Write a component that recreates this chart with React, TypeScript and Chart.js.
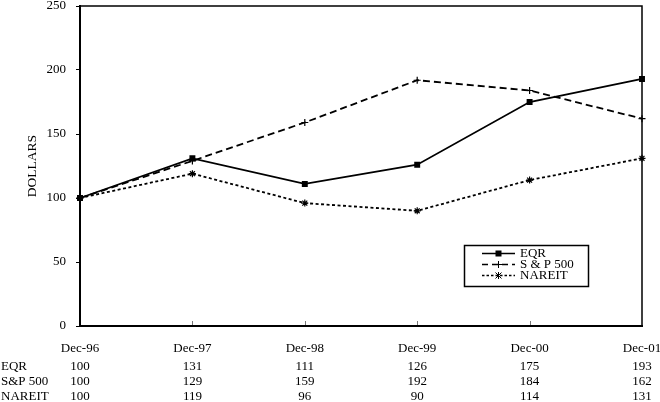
import React, { useEffect, useRef } from 'react';
import { Chart, registerables } from 'chart.js';
Chart.register(...registerables);

const categories = ['Dec-96', 'Dec-97', 'Dec-98', 'Dec-99', 'Dec-00', 'Dec-01'];
const eqr = [100, 131, 111, 126, 175, 193];
const sp500 = [100, 129, 159, 192, 184, 162];
const nareit = [100, 119, 96, 90, 114, 131];
const legendNames = ['EQR', 'S & P 500', 'NAREIT'];
const tableLabels = ['EQR', 'S&P 500', 'NAREIT'];
const yMin = 0;
const yMax = 250;
const yStep = 50;
const yTitle = 'DOLLARS';

const FONT = "'Liberation Serif', 'Times New Roman', serif";

const extrasPlugin = {
  id: 'extras',
  afterDraw(chart: any) {
    const { ctx, chartArea, scales } = chart;
    const x = scales.x;
    ctx.save();
    ctx.strokeStyle = '#000';
    // top and right frame
    ctx.lineWidth = 1.5;
    ctx.beginPath();
    ctx.moveTo(chartArea.left, chartArea.top);
    ctx.lineTo(chartArea.right, chartArea.top);
    ctx.lineTo(chartArea.right, chartArea.bottom);
    ctx.stroke();
    // inward x ticks
    ctx.lineWidth = 1;
    ctx.strokeStyle = '#777';
    for (let i = 1; i < categories.length - 1; i++) {
      const px = Math.round(x.getPixelForValue(i)) + 0.5;
      ctx.beginPath();
      ctx.moveTo(px, chartArea.bottom - 1);
      ctx.lineTo(px, chartArea.bottom - 5);
      ctx.stroke();
    }
    // y title
    ctx.fillStyle = '#000';
    ctx.save();
    ctx.font = `13.5px ${FONT}`;
    ctx.translate(32.5, (chartArea.top + chartArea.bottom) / 2);
    ctx.rotate(-Math.PI / 2);
    ctx.textAlign = 'center';
    ctx.textBaseline = 'middle';
    ctx.fillText(yTitle, 0, 0);
    ctx.restore();
    ctx.font = `13px ${FONT}`;
    // table
    const rows = [eqr, sp500, nareit];
    const rowY = [367, 382, 397];
    ctx.textBaseline = 'middle';
    rows.forEach((row, r) => {
      ctx.textAlign = 'left';
      ctx.fillText(tableLabels[r], 1, rowY[r]);
      ctx.textAlign = 'center';
      row.forEach((v, i) => {
        ctx.fillText(String(v), x.getPixelForValue(i), rowY[r]);
      });
    });
    // legend
    const bx = 464.5, by = 245.5, bw = 124, bh = 41;
    ctx.strokeStyle = '#000';
    ctx.lineWidth = 1.5;
    ctx.strokeRect(bx, by, bw, bh);
    const ly = [253.5, 264.5, 275.5];
    const dashes = [[], [6, 4], [2.5, 2]];
    const styles = ['rect', 'cross', 'star'];
    ly.forEach((yy, i) => {
      ctx.lineWidth = 1.5;
      ctx.setLineDash(dashes[i]);
      ctx.beginPath();
      ctx.moveTo(482, yy);
      ctx.lineTo(515, yy);
      ctx.stroke();
      ctx.setLineDash([]);
      const mx = 498.5;
      ctx.lineWidth = 1;
      if (styles[i] === 'rect') {
        ctx.fillRect(mx - 3, yy - 3, 6, 6);
      } else if (styles[i] === 'cross') {
        ctx.beginPath();
        ctx.moveTo(mx - 3.5, yy); ctx.lineTo(mx + 3.5, yy);
        ctx.moveTo(mx, yy - 3.5); ctx.lineTo(mx, yy + 3.5);
        ctx.stroke();
      } else {
        ctx.beginPath();
        ctx.moveTo(mx - 3, yy - 3); ctx.lineTo(mx + 3, yy + 3);
        ctx.moveTo(mx + 3, yy - 3); ctx.lineTo(mx - 3, yy + 3);
        ctx.moveTo(mx, yy - 3.5); ctx.lineTo(mx, yy + 3.5);
        ctx.stroke();
      }
      ctx.textAlign = 'left';
      ctx.textBaseline = 'middle';
      ctx.fillText(legendNames[i], 520, yy);
    });
    ctx.restore();
  },
};

export default function App() {
  const ref = useRef<HTMLCanvasElement | null>(null);
  useEffect(() => {
    document.body.style.margin = '0';
    const canvas = ref.current!;
    const chart = new Chart(canvas, {
      type: 'line',
      data: {
        labels: categories,
        datasets: [
          {
            label: legendNames[0],
            data: eqr,
            borderColor: '#000',
            backgroundColor: '#000',
            borderWidth: 1.8,
            pointStyle: 'rect',
            pointRadius: 4.2,
            pointBorderWidth: 0,
            tension: 0,
          },
          {
            label: legendNames[1],
            data: sp500,
            borderColor: '#000',
            backgroundColor: '#000',
            borderWidth: 1.8,
            borderDash: [7, 4],
            pointStyle: 'cross',
            pointRadius: 3.5,
            pointBorderWidth: 1.2,
            tension: 0,
          },
          {
            label: legendNames[2],
            data: nareit,
            borderColor: '#000',
            backgroundColor: '#000',
            borderWidth: 1.8,
            borderDash: [3, 2.5],
            pointStyle: 'star',
            pointRadius: 3.5,
            pointBorderWidth: 1.2,
            tension: 0,
          },
        ],
      },
      options: {
        responsive: false,
        animation: false,
        events: [],
        layout: { padding: { top: 6, right: 18, left: 0, bottom: 0 } },
        plugins: {
          legend: { display: false },
          tooltip: { enabled: false },
        },
        scales: {
          x: {
            type: 'category',
            offset: false,
            grid: { drawOnChartArea: false, drawTicks: false },
            border: { display: true, color: '#000', width: 2 },
            ticks: {
              color: '#000',
              font: { family: FONT, size: 13 },
              padding: 15,
              maxRotation: 0,
              autoSkip: false,
            },
            afterFit(scale: any) {
              scale.height = 76;
              scale.paddingLeft = 0;
              scale.paddingRight = 0;
            },
          },
          y: {
            min: yMin,
            max: yMax,
            grid: { drawOnChartArea: false, drawTicks: true, tickLength: 4, color: '#000', lineWidth: 1 },
            border: { display: true, color: '#000', width: 2 },
            ticks: {
              stepSize: yStep,
              color: '#000',
              font: { family: FONT, size: 13 },
              padding: 10,
            },
            afterFit(scale: any) {
              scale.width = 80;
              scale.paddingTop = 0;
              scale.paddingBottom = 0;
            },
          },
        },
      },
      plugins: [extrasPlugin],
    });
    return () => chart.destroy();
  }, []);
  return <canvas ref={ref} width={660} height={402} style={{ display: 'block' }} />;
}
